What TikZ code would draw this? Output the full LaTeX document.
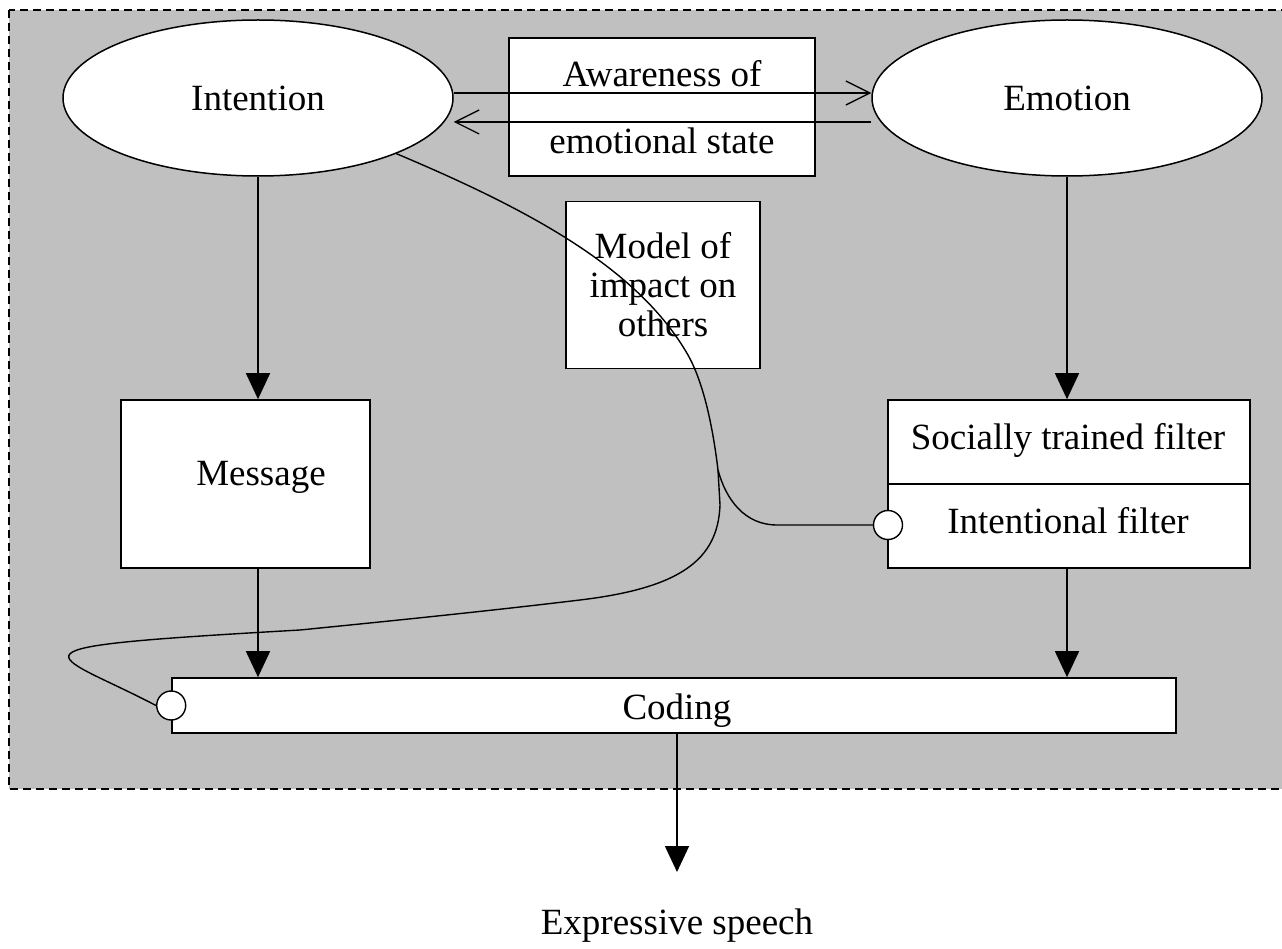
\documentclass[tikz,border=0pt]{standalone}
\usepackage{fontspec}
\setmainfont{Liberation Serif}
\usetikzlibrary{arrows.meta}
\usetikzlibrary{shapes.geometric}
\definecolor{panel}{RGB}{192,192,192}

\begin{document}
\begin{tikzpicture}[x=1pt, y=-1pt,
        font=\fontsize{37}{39}\selectfont,
        every node/.style={inner sep=0pt},
        box/.style={draw, fill=white, line width=1.6pt},
        blob/.style={ellipse, draw, fill=white, line width=1.5pt, minimum width=390pt, minimum height=156pt},
        flow/.style={line width=1.6pt, -{Triangle[length=26pt, width=24pt]}},
        aware/.style={line width=1.3pt, -{Straight Barb[length=24pt, width=24pt, line width=1.3pt]}},
        wire/.style={line width=1.4pt},
        port/.style={circle, draw, fill=white, line width=1.4pt, minimum size=29pt}]
        \useasboundingbox (0,0) rectangle (1282,949);
        \draw [fill=panel, dash pattern=on 8pt off 5pt, line width=1.5pt] (9,10) rectangle (1300,789);

        \node [blob] (Intention) at (258,98) {Intention};
        \node [blob] (Emotion) at (1067,98) {Emotion};
        \node [box, minimum width=306pt, minimum height=138pt, align=center] (Awareness) at (662,107) {Awareness of\\[28pt]emotional state};
        \node [box, minimum width=194pt, minimum height=167pt, align=center] (Model) at (663,285) {Model of\\impact on\\others};
        \node [box, minimum width=249pt, minimum height=168pt] (Message) at (245.5,484) {};
        \node (MessageLabel) at (261,477) {Message};
        \node [box, minimum width=362pt, minimum height=168pt] (Filter) at (1069,484) {};
        \draw [line width=1.2pt] (Filter.west) -- (Filter.east);
        \node (SocialFilter) at (1068,440) {Socially trained filter};
        \node (IntentFilter) at (1068,521) {Intentional filter};
        \node [box, minimum width=1004pt, minimum height=55pt] (Coding) at (674,705.5) {};
        \node (CodingLabel) at (677,711) {Coding};
        \node (Speech) at (677,926) {Expressive speech};
        \node [port] (IntentPort) at (888,525) {};
        \node [port] (CodingPort) at (Coding.west) {};
        \coordinate (SpeechTip) at (677,872);
        \coordinate (Split) at (718,470);

        % arrows
        \draw [flow] (Intention.south) -- (Intention.south |- Message.north);
        \draw [flow] (Emotion.south) -- (Emotion.south |- Filter.north);
        \draw [flow] (Message.south -| Intention) -- (Intention |- Coding.north);
        \draw [flow] (Filter.south -| Emotion) -- (Emotion |- Coding.north);
        \draw [flow] (Coding.south -| SpeechTip) -- (SpeechTip);
        \draw [aware] ([yshift=5pt]Intention.east) -- ([yshift=5pt]Emotion.west);
        \draw [aware] ([yshift=-24pt]Emotion.west) -- ([yshift=-24pt]Intention.east);

        % curves
        \draw [wire] (Intention.south east) .. controls (530,210) and (638,268) .. (688,355)
            .. controls (702,380) and (712,420) .. (Split)
            .. controls (726,500) and (745,525) .. (777,525) -- (IntentPort.west);
        \draw [wire] (Split) -- (720,505) .. controls (718,560) and (680,588) .. (580,600)
            .. controls (480,612) and (380,622) .. (300,630)
            .. controls (-15,648) and (50,650) .. (CodingPort.west);
\end{tikzpicture}
\end{document}
